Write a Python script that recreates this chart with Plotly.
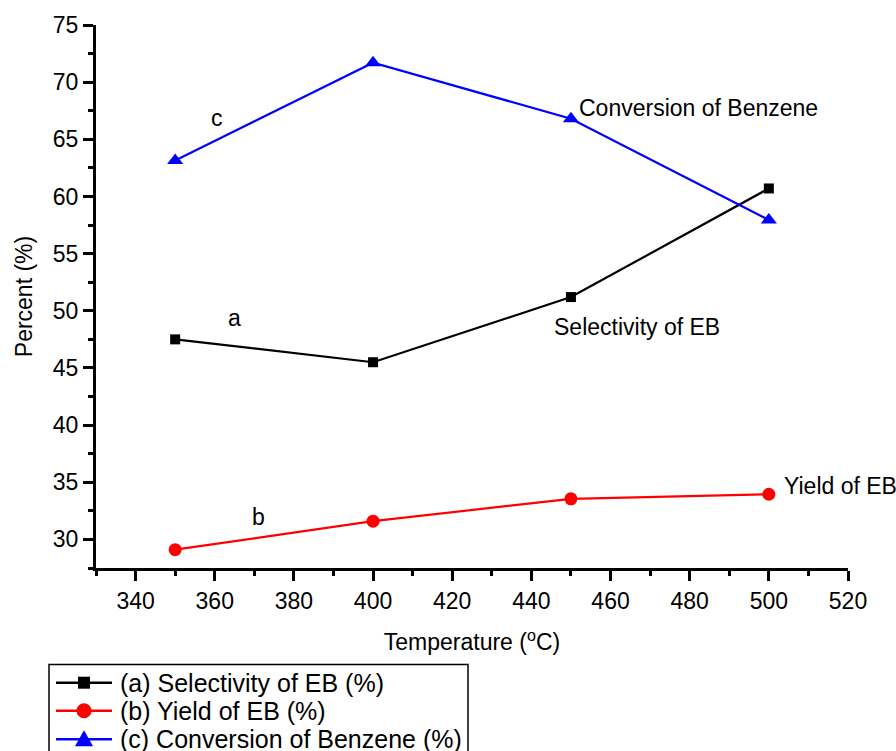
import plotly.graph_objects as go

# Reaction temperature (°C)
temperature = [350, 400, 450, 500]

# Measured percentages per temperature
selectivity_eb = [47.5, 45.5, 51.2, 60.7]
yield_eb = [29.1, 31.6, 33.55, 33.95]
conversion_benzene = [63.15, 71.7, 66.8, 57.95]

series_names = ["(a) Selectivity of EB (%)", "(b) Yield of EB (%)", "(c) Conversion of Benzene (%)"]
series_colors = ["black", "#ff0000", "#0000ff"]
series_symbols = ["square", "circle", "triangle-up"]

x_ticks = [340, 360, 380, 400, 420, 440, 460, 480, 500, 520]
y_ticks = [30, 35, 40, 45, 50, 55, 60, 65, 70, 75]

FONT = "Liberation Sans, Arial, sans-serif"
FS = 23

W, H = 896, 751
ML, MR, MT, MB = 96, 48, 25, 183
PW, PH = W - ML - MR, H - MT - MB


def px_x(px):
    return (px - ML) / PW


def px_y(py):
    return (H - MB - py) / PH


fig = go.Figure()

marker_sizes = [10, 13, 14]
for vals, name, color, sym, msize in zip(
        [selectivity_eb, yield_eb, conversion_benzene],
        series_names, series_colors, series_symbols, marker_sizes):
    fig.add_trace(go.Scatter(
        x=temperature, y=vals, mode="lines+markers", name=name,
        line=dict(color=color, width=2.2),
        marker=dict(symbol=sym, size=msize, color=color),
        showlegend=False,
    ))

# In-plot labels
labels = [
    dict(x=360.6, y=66.9, text="c", xanchor="center"),
    dict(x=365.1, y=49.4, text="a", xanchor="center"),
    dict(x=371.0, y=32.0, text="b", xanchor="center"),
    dict(x=451.5, y=67.7, text="Conversion of Benzene", xanchor="left"),
    dict(x=445.2, y=48.6, text="Selectivity of EB", xanchor="left"),
    dict(x=503.3, y=34.7, text="Yield of EB", xanchor="left"),
]
for lab in labels:
    fig.add_annotation(x=lab["x"], y=lab["y"], text=lab["text"], xanchor=lab["xanchor"],
                       yanchor="middle", showarrow=False,
                       font=dict(family=FONT, size=FS, color="black"))

# Boxed key below the axes
fig.add_shape(type="rect", xref="paper", yref="paper",
              x0=px_x(49), x1=px_x(468), y0=px_y(664.5), y1=px_y(770),
              line=dict(color="black", width=1.5), fillcolor="white", layer="below")
row_y = [682.7, 710.7, 739.3]
for ry, name, color, sym in zip(row_y, series_names, series_colors, series_symbols):
    yp = px_y(ry)
    fig.add_shape(type="line", xref="paper", yref="paper",
                  x0=px_x(56), x1=px_x(112), y0=yp, y1=yp,
                  line=dict(color=color, width=2.6))
    xc = px_x(84)
    if sym == "square":
        fig.add_shape(type="rect", xref="paper", yref="paper",
                      xsizemode="pixel", ysizemode="pixel", xanchor=xc, yanchor=yp,
                      x0=-6, x1=6, y0=-6, y1=6, line=dict(width=0), fillcolor=color)
    elif sym == "circle":
        fig.add_shape(type="circle", xref="paper", yref="paper",
                      xsizemode="pixel", ysizemode="pixel", xanchor=xc, yanchor=yp,
                      x0=-7.5, x1=7.5, y0=-7.5, y1=7.5, line=dict(width=0), fillcolor=color)
    else:
        fig.add_shape(type="path", xref="paper", yref="paper",
                      xsizemode="pixel", ysizemode="pixel", xanchor=xc, yanchor=yp,
                      path="M -9,-7 L 9,-7 L 0,9 Z", line=dict(width=0), fillcolor=color)
    fig.add_annotation(xref="paper", yref="paper", x=px_x(118), y=yp, text=name,
                       xanchor="left", yanchor="middle", showarrow=False,
                       font=dict(family=FONT, size=25, color="black"))

axis_common = dict(
    showline=True, linecolor="black", linewidth=3,
    ticks="outside", ticklen=10, tickwidth=3, tickcolor="black",
    showgrid=False, zeroline=False, mirror=False, automargin=False,
    tickfont=dict(family=FONT, size=FS, color="black"),
)

fig.update_xaxes(
    range=[330, 520], tickvals=x_ticks,
    minor=dict(dtick=10, tick0=330, ticks="outside", ticklen=5, tickwidth=3, tickcolor="black"),
    title=dict(text="Temperature (<sup>o</sup>C)", font=dict(family=FONT, size=FS, color="black"), standoff=22),
    **axis_common,
)
fig.update_yaxes(
    range=[27.5, 75], tickvals=y_ticks,
    minor=dict(dtick=2.5, tick0=27.5, ticks="outside", ticklen=5, tickwidth=3, tickcolor="black"),
    title=dict(text="Percent (%)", font=dict(family=FONT, size=FS, color="black"), standoff=14),
    **axis_common,
)

fig.update_layout(
    width=W, height=H,
    margin=dict(l=ML, r=MR, t=MT, b=MB, autoexpand=False),
    plot_bgcolor="white", paper_bgcolor="white",
    showlegend=False,
)

fig.write_html("out.html")
